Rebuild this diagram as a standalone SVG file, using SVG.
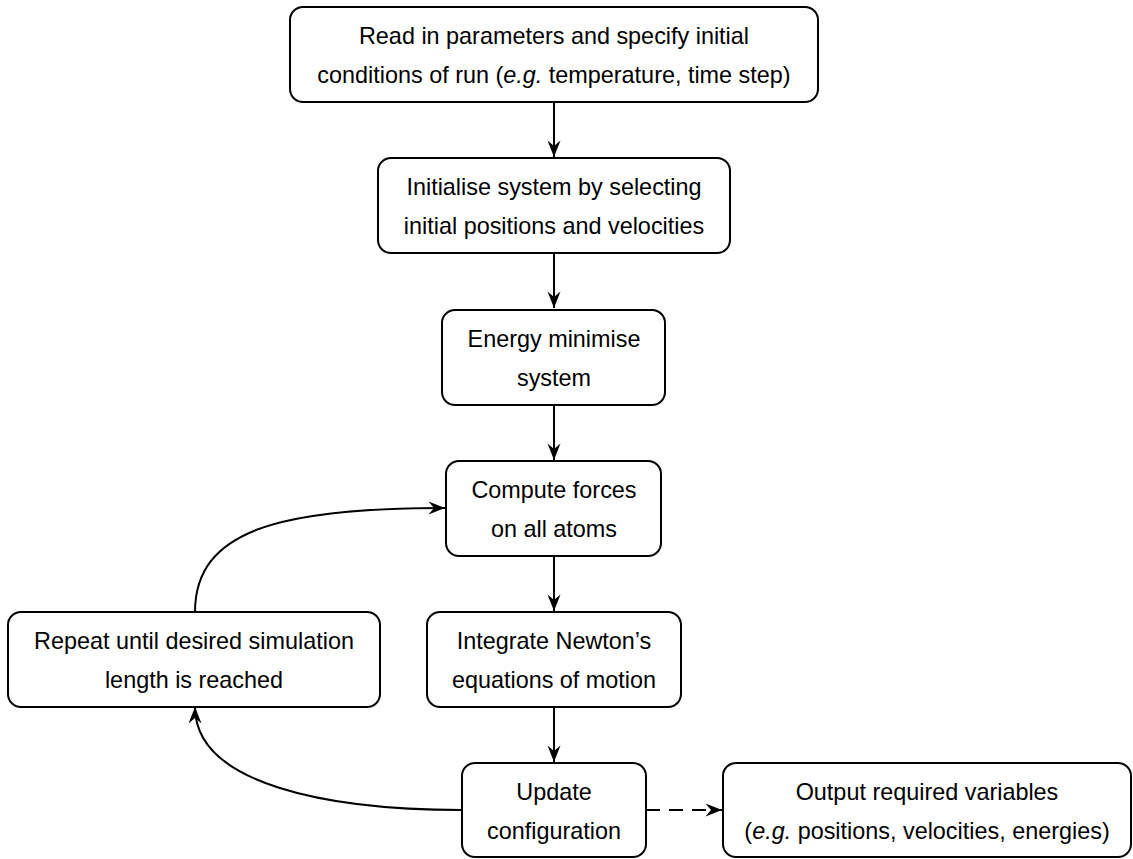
<svg xmlns="http://www.w3.org/2000/svg" width="1133" height="859" viewBox="0 0 1133 859">
  <style>
    .box { fill: #ffffff; stroke: #000000; stroke-width: 2; }
    .lbl { font-family: "Liberation Sans", Arial, Helvetica, sans-serif; font-size: 23.4px; fill: #000000; text-anchor: middle; }
    .it { font-style: italic; }
    .edge { fill: none; stroke: #000000; stroke-width: 2; marker-end: url(#arrow); }
    .dash { stroke-dasharray: 14 9; }
  </style>
  <defs>
    <marker id="arrow" markerUnits="userSpaceOnUse" viewBox="-18 -8 19 16" refX="0" refY="0" markerWidth="19" markerHeight="16" orient="auto">
      <path d="M0,0 L-16.5,-6.5 L-11,0 L-16.5,6.5 Z" fill="#000000"/>
    </marker>
  </defs>

  <!-- connectors -->
  <g id="connectors">
    <path class="edge" d="M554,102 L554,157"/>
    <path class="edge" d="M554,253 L554,308"/>
    <path class="edge" d="M554,405 L554,460"/>
    <path class="edge" d="M554,556 L554,611"/>
    <path class="edge" d="M554,707 L554,762"/>
    <path class="edge" d="M195,612 C195,530 280,508 445,508"/>
    <path class="edge" d="M462,810 C330,810 195,785 195,707"/>
    <path class="edge dash" d="M646,810 L722,810"/>
  </g>

  <g id="read-parameters">
    <rect class="box" x="290" y="7" width="528" height="95" rx="13"/>
    <text class="lbl" x="554" y="44">Read in parameters and specify initial</text>
    <text class="lbl" x="554" y="83">conditions of run (<tspan class="it">e.g.</tspan> temperature, time step)</text>
  </g>

  <g id="initialise-system">
    <rect class="box" x="378" y="158" width="352" height="95" rx="13"/>
    <text class="lbl" x="554" y="194.5">Initialise system by selecting</text>
    <text class="lbl" x="554" y="233.5">initial positions and velocities</text>
  </g>

  <g id="energy-minimise">
    <rect class="box" x="442" y="310" width="223" height="95" rx="13"/>
    <text class="lbl" x="554" y="346.5">Energy minimise</text>
    <text class="lbl" x="554" y="385.5">system</text>
  </g>

  <g id="compute-forces">
    <rect class="box" x="446" y="461" width="215" height="95" rx="13"/>
    <text class="lbl" x="554" y="497.5">Compute forces</text>
    <text class="lbl" x="554" y="536.5">on all atoms</text>
  </g>

  <g id="repeat">
    <rect class="box" x="8" y="612" width="372" height="95" rx="13"/>
    <text class="lbl" x="194" y="648.5">Repeat until desired simulation</text>
    <text class="lbl" x="194" y="687.5">length is reached</text>
  </g>

  <g id="integrate">
    <rect class="box" x="427" y="612" width="254" height="95" rx="13"/>
    <text class="lbl" x="554" y="648.5">Integrate Newton’s</text>
    <text class="lbl" x="554" y="687.5">equations of motion</text>
  </g>

  <g id="update-configuration">
    <rect class="box" x="462" y="763" width="184" height="94" rx="13"/>
    <text class="lbl" x="554" y="799.5">Update</text>
    <text class="lbl" x="554" y="838.5">configuration</text>
  </g>

  <g id="output-variables">
    <rect class="box" x="723" y="763" width="408" height="94" rx="13"/>
    <text class="lbl" x="927" y="799.5">Output required variables</text>
    <text class="lbl" x="927" y="838.5">(<tspan class="it">e.g.</tspan> positions, velocities, energies)</text>
  </g>
</svg>
